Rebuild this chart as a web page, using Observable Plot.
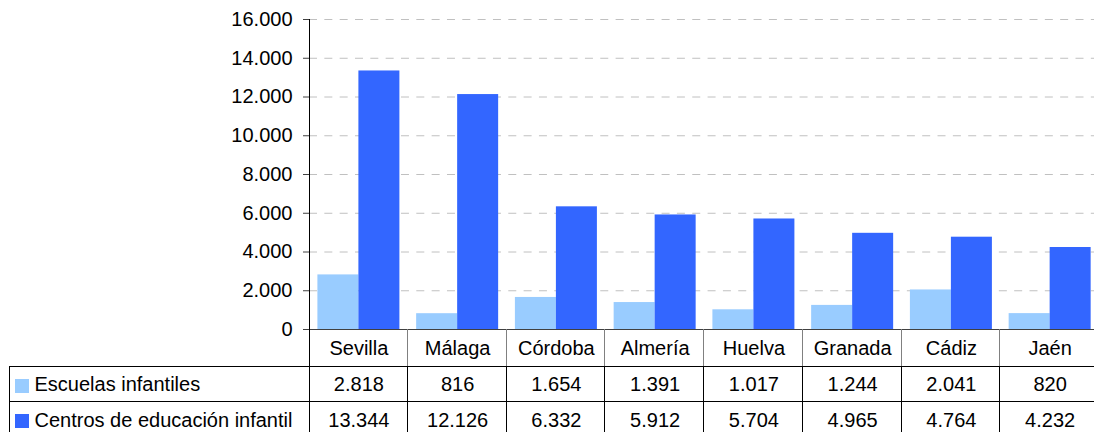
<!DOCTYPE html>
<html><head><meta charset="utf-8">
<script src="https://cdn.jsdelivr.net/npm/d3@7"></script>
<script src="https://cdn.jsdelivr.net/npm/@observablehq/plot@0.6"></script>
<style>
html,body{margin:0;padding:0;overflow:hidden;background:#fff;}
#chart svg{max-width:none !important;}
</style></head><body><div id="chart"></div>
<script>
const categories = ["Sevilla","Málaga","Córdoba","Almería","Huelva","Granada","Cádiz","Jaén"];
const seriesNames = ["Escuelas infantiles","Centros de educación infantil"];
const escuelas = [2818,816,1654,1391,1017,1244,2041,820];
const centros = [13344,12126,6332,5912,5704,4965,4764,4232];
const yTicks = [0,2000,4000,6000,8000,10000,12000,14000,16000];
const colors = ["#99ccff","#3366ff"];

const locale = d3.formatLocale({decimal: ",", thousands: ".", grouping: [3]});
const fmt = locale.format(",d");

const W = 1099, H = 432, ML = 309, MT = 19, MB = 103;
const bw = (W - ML) / categories.length;
const pad = 8.4, barW = 41;
const rows = categories.map((c, i) => ({c, a: escuelas[i], b: centros[i]}));
const FONT = "'Liberation Sans', Arial, sans-serif";

const plot = Plot.plot({
  width: W, height: H,
  marginLeft: ML, marginRight: 0, marginTop: MT, marginBottom: MB,
  style: {fontFamily: FONT, fontSize: "20px", color: "#000", background: "#fff", overflow: "visible", maxWidth: "none"},
  x: {domain: categories, padding: 0, round: false, axis: null},
  y: {domain: [0, 16000], axis: null},
  marks: [
    Plot.gridY(yTicks.filter(d => d > 0), {stroke: "#c0c0c0", strokeOpacity: 1, strokeDasharray: "8,7.33"}),
    Plot.barY(rows, {x: "c", y: "a", fill: colors[0], insetLeft: pad, insetRight: bw - pad - barW}),
    Plot.barY(rows, {x: "c", y: "b", fill: colors[1], insetLeft: pad + barW, insetRight: bw - pad - 2 * barW}),
    Plot.axisY({ticks: yTicks, tickSize: 6, tickPadding: 11, tickFormat: fmt, fontSize: 20, stroke: "#404040", fill: "#000"}),
    Plot.ruleY([0], {stroke: "#404040"}),
    Plot.text(categories, {x: d => d, y: () => 0, dy: 19, fontSize: 20, fill: "#000"}),
    Plot.text(rows, {x: "c", y: () => 0, dy: 55.5, text: d => fmt(d.a), fontSize: 20, fill: "#000"}),
    Plot.text(rows, {x: "c", y: () => 0, dy: 91.5, text: d => fmt(d.b), fontSize: 20, fill: "#000"}),
    Plot.text([seriesNames[0]], {frameAnchor: "left", y: () => 0, dx: 34 - ML, dy: 55.5, textAnchor: "start", fontSize: 20, fill: "#000"}),
    Plot.text([seriesNames[1]], {frameAnchor: "left", y: () => 0, dx: 34 - ML, dy: 91.5, textAnchor: "start", fontSize: 20, fill: "#000"})
  ]
});

// table grid and legend swatches, positioned from Plot's scales
const xs = plot.scale("x");
const ys = plot.scale("y");
const y0 = ys.apply(0);
const row1 = y0 + 37, row2 = y0 + 72.5;
const svg = d3.select(plot);
const g = svg.append("g").attr("shape-rendering", "crispEdges");
g.append("line").attr("x1", ML + 0.5).attr("x2", ML + 0.5).attr("y1", MT).attr("y2", H).attr("stroke", "#000");
[row1, row2].forEach(y => g.append("line").attr("x1", 9.5).attr("x2", W).attr("y1", y).attr("y2", y).attr("stroke", "#000"));
g.append("line").attr("x1", 9.5).attr("x2", 9.5).attr("y1", row1).attr("y2", H).attr("stroke", "#000");
categories.slice(1).concat([null]).forEach((c) => {
  const x = (c === null ? xs.apply(categories[categories.length - 1]) + xs.bandwidth : xs.apply(c)) - 0.5;
  g.append("line").attr("x1", x).attr("x2", x).attr("y1", y0).attr("y2", row1).attr("stroke", "#808080");
  g.append("line").attr("x1", x).attr("x2", x).attr("y1", row1).attr("y2", H).attr("stroke", "#000");
});
[[row1, colors[0]], [row2, colors[1]]].forEach(([y, col]) => {
  g.append("rect").attr("x", 15).attr("y", y + 12.5).attr("width", 14).attr("height", 14).attr("fill", col);
});

document.getElementById("chart").appendChild(plot);
</script>
</body></html>
